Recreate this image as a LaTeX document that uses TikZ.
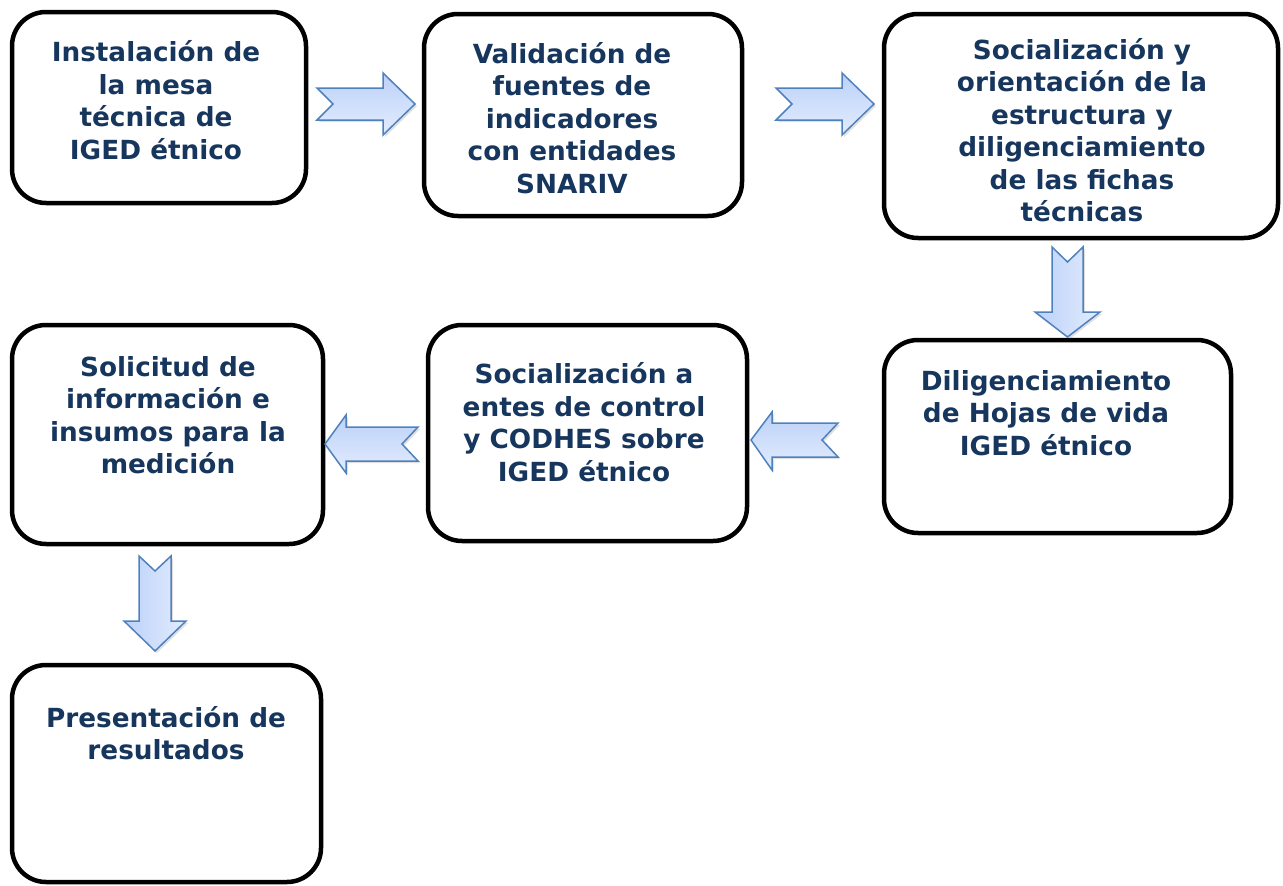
\documentclass[tikz,border=0pt]{standalone}
\usepackage{fontspec}
\setmainfont{DejaVu Sans}
\usetikzlibrary{shadows}
\definecolor{navy}{RGB}{23,54,93}
\definecolor{arrowedge}{RGB}{79,129,189}
\definecolor{arrowlight}{RGB}{226,236,253}
\definecolor{arrowdark}{RGB}{188,209,249}
\tikzset{
  box/.style={draw=black, line width=4.5pt, rounded corners=34pt, fill=white},
  txt/.style={text=navy, align=center, font=\bfseries\fontsize{26.3}{32.5}\selectfont, inner sep=0pt},
  harrow/.style={draw=arrowedge, line width=1.5pt, line join=miter, top color=arrowdark, bottom color=arrowlight,
     drop shadow={opacity=0.2, shadow xshift=2pt, shadow yshift=-2pt, fill=black!60}},
  varrow/.style={draw=arrowedge, line width=1.5pt, line join=miter, left color=arrowdark, right color=arrowlight,
     drop shadow={opacity=0.2, shadow xshift=2pt, shadow yshift=-2pt, fill=black!60}}
}
\begin{document}
\begin{tikzpicture}[x=1pt,y=-1pt]
\useasboundingbox (0,0) rectangle (1283,886);
% boxes
\node[box, minimum width=294pt, minimum height=191pt] (b1) at (159,107.5) {};
\node[box, minimum width=318pt, minimum height=202pt] (b2) at (583,115) {};
\node[box, minimum width=394pt, minimum height=224pt] (b3) at (1081,126) {};
\node[box, minimum width=347pt, minimum height=193pt] (b4) at (1057.5,436.5) {};
\node[box, minimum width=319pt, minimum height=216pt] (b5) at (587.5,433) {};
\node[box, minimum width=311pt, minimum height=219pt] (b6) at (167.5,434.5) {};
\node[box, minimum width=309pt, minimum height=217pt] (b7) at (166.5,773.5) {};
% texts
\node[txt] (t1) at (156,100) {Instalación de\\la mesa\\técnica de\\IGED étnico};
\node[txt] (t2) at (572,118) {Validación de\\fuentes de\\indicadores\\con entidades\\SNARIV};
\node[txt] (t3) at (1082,130) {Socialización y\\orientación de la\\estructura y\\diligenciamiento\\de las fichas\\técnicas};
\node[txt] (t4) at (1046,413) {Diligenciamiento\\de Hojas de vida\\IGED étnico};
\node[txt] (t5) at (584,422) {Socialización a\\entes de control\\y CODHES sobre\\IGED étnico};
\node[txt] (t6) at (168,415) {Solicitud de\\información e\\insumos para la\\medición};
\node[txt] (t7) at (166,733) {Presentación de\\resultados};
% block arrows
\path[harrow] (317,88) -- (383,88) -- (383,73) -- (415,104) -- (383,135) -- (383,120) -- (317,120) -- (333,104) -- cycle;
\path[harrow] (776,88) -- (842,88) -- (842,73) -- (874,104) -- (842,135) -- (842,120) -- (776,120) -- (792,104) -- cycle;
\path[varrow] (1052,247) -- (1067.5,262) -- (1083,247) -- (1083,312) -- (1100,312) -- (1067.5,337) -- (1035,312) -- (1052,312) -- cycle;
\path[harrow] (751,440) -- (772,412) -- (772,423) -- (838,423) -- (822,440) -- (838,457) -- (772,457) -- (772,470) -- cycle;
\path[harrow] (325,444) -- (346,415) -- (346,427) -- (418,427) -- (402,444) -- (418,461) -- (346,461) -- (346,473) -- cycle;
\path[varrow] (139,556) -- (155,571) -- (171,556) -- (171,621) -- (186,621) -- (155,651) -- (124,621) -- (139,621) -- cycle;
\end{tikzpicture}
\end{document}
